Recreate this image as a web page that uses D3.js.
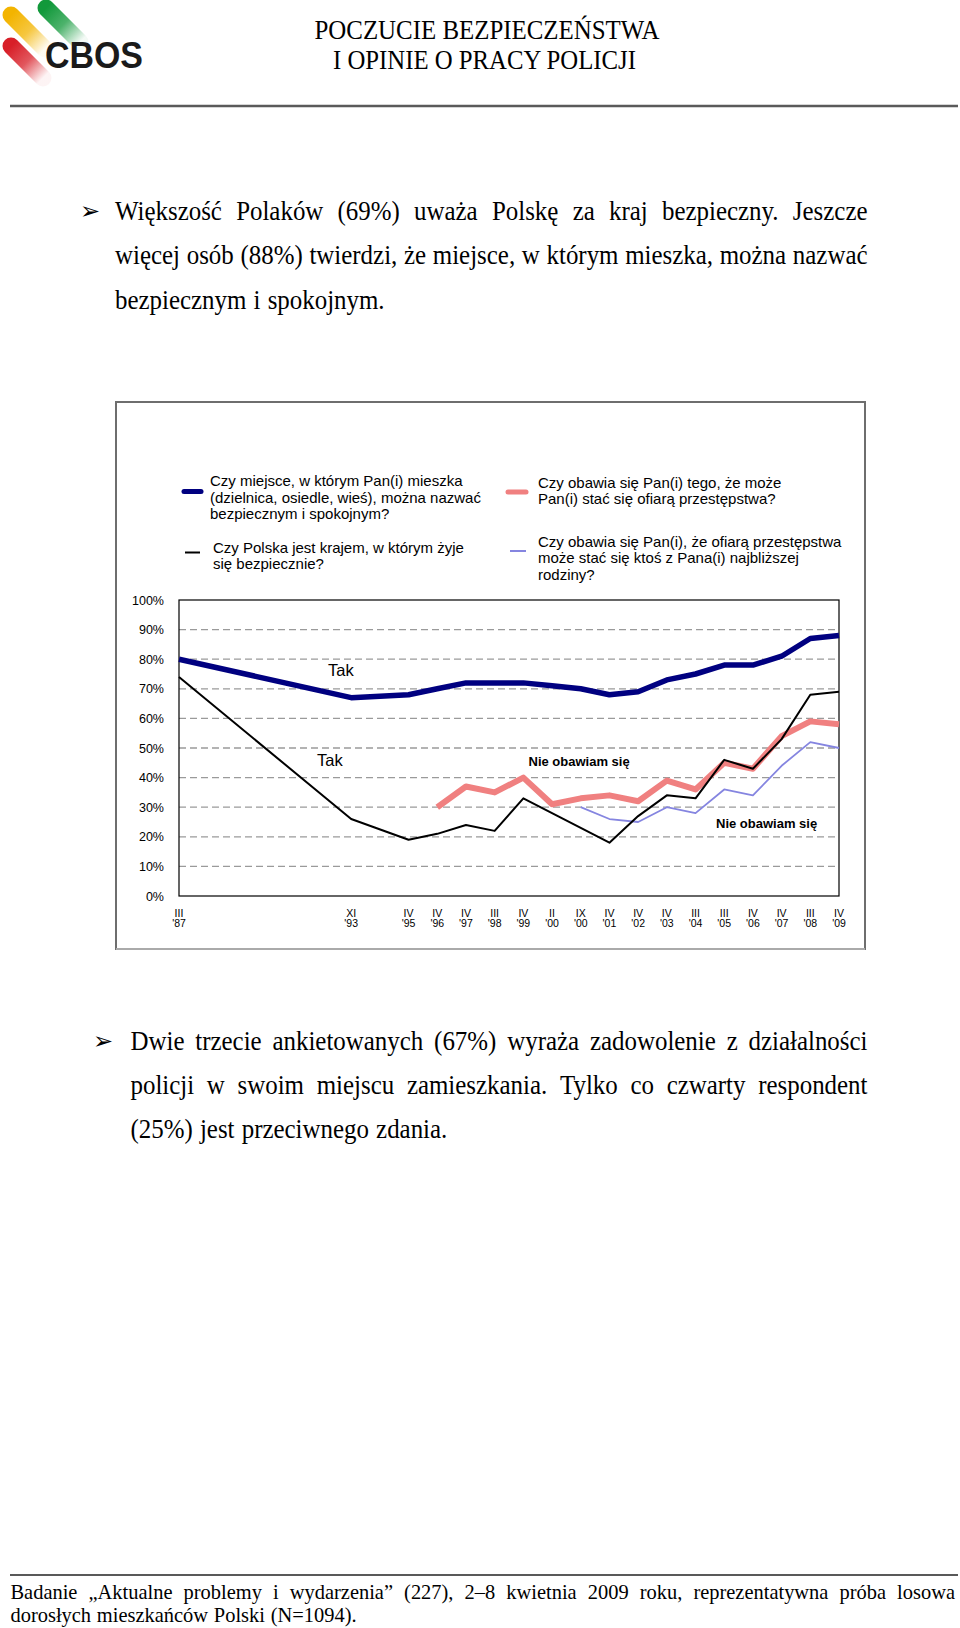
<!DOCTYPE html>
<html><head><meta charset="utf-8">
<script src="https://cdn.jsdelivr.net/npm/d3@7"></script>
<style>body{margin:0;background:#fff}svg{display:block}</style>
</head><body>
<svg id="page" width="960" height="1628"></svg>
<script>
// ---------------- DATA ----------------
const periods = ["III","","","","","","XI","","IV","IV","IV","III","IV","II","IX","IV","IV","IV","III","III","IV","IV","III","IV"];
const years   = ["'87","","","","","","'93","","'95","'96","'97","'98","'99","'00","'00","'01","'02","'03","'04","'05","'06","'07","'08","'09"];
const safePlace       = [80,null,null,null,null,null,67,null,68,70,72,72,72,71,70,68,69,73,75,78,78,81,87,88];
const safeCountry     = [74,null,null,null,null,null,26,null,19,21,24,22,33,28,23,18,27,34,33,46,43,53,68,69];
const notAfraidSelf   = [null,null,null,null,null,null,null,null,null,30,37,35,40,31,33,34,32,39,36,45,43,54,59,58];
const notAfraidFamily = [null,null,null,null,null,null,null,null,null,null,null,null,null,null,30,26,25,30,28,36,34,44,52,50];
const yTicks = [0,10,20,30,40,50,60,70,80,90,100];
const legendPlace   = ["Czy miejsce, w którym Pan(i) mieszka","(dzielnica, osiedle, wieś), można nazwać","bezpiecznym i spokojnym?"];
const legendCountry = ["Czy Polska jest krajem, w którym żyje","się bezpiecznie?"];
const legendSelf    = ["Czy obawia się Pan(i) tego, że może","Pan(i) stać się ofiarą przestępstwa?"];
const legendFamily  = ["Czy obawia się Pan(i), że ofiarą przestępstwa","może stać się ktoś z Pana(i) najbliższej","rodziny?"];

// ---------------- PAGE ----------------
const svg = d3.select("#page");
const SERIF = "'Liberation Serif','Times New Roman',serif";
const SANS = "'Liberation Sans',Arial,sans-serif";
const defs = svg.append("defs");

// logo
const logo = svg.append("g");
[["#f3b400",11,15,45,49],["#12993b",46,8,80,42],["#d81f28",11,46,43,78]].forEach(([c,x1,y1,x2,y2],k)=>{
  const id = "lg"+k;
  const g = defs.append("linearGradient").attr("id",id).attr("gradientUnits","userSpaceOnUse")
    .attr("x1",x1).attr("y1",y1).attr("x2",x2).attr("y2",y2);
  g.append("stop").attr("offset","0").attr("stop-color",c);
  g.append("stop").attr("offset","0.5").attr("stop-color",c).attr("stop-opacity",0.75);
  g.append("stop").attr("offset","1").attr("stop-color",c).attr("stop-opacity",0.05);
  logo.append("line").attr("x1",x1).attr("y1",y1).attr("x2",x2).attr("y2",y2)
    .attr("stroke",`url(#${id})`).attr("stroke-width",17).attr("stroke-linecap","round");
});
logo.append("text").attr("x",45).attr("y",68).attr("font-family",SANS).attr("font-weight","bold")
  .attr("font-size",36).attr("fill","#1a1a1a").attr("textLength",98).attr("lengthAdjust","spacingAndGlyphs").text("CBOS");

// header
svg.append("text").attr("x",314.5).attr("y",39).attr("font-family",SERIF).attr("font-size",27)
  .attr("textLength",345).attr("lengthAdjust","spacingAndGlyphs").text("POCZUCIE BEZPIECZEŃSTWA");
svg.append("text").attr("x",333).attr("y",68.5).attr("font-family",SERIF).attr("font-size",27)
  .attr("textLength",303).attr("lengthAdjust","spacingAndGlyphs").text("I OPINIE O PRACY POLICJI");
svg.append("line").attr("x1",10).attr("x2",958).attr("y1",106).attr("y2",106).attr("stroke","#5a5a5a").attr("stroke-width",2.5);

// word-by-word text lines (justified by distributing gaps)
function textLine(str, x0, x1, yb, size, sx, justify){
  const g = svg.append("g");
  const words = str.split(" ");
  const nodes = words.map(w => g.append("text").attr("y", yb).attr("font-family", SERIF).attr("font-size", size).attr("fill","#000").text(w));
  const ws = nodes.map(n => n.node().getComputedTextLength()*sx);
  const total = d3.sum(ws);
  const gap = justify ? (x1-x0-total)/(words.length-1) : size*0.27;
  let xp = x0;
  nodes.forEach((n,k)=>{ n.attr("x", xp).attr("textLength", ws[k]).attr("lengthAdjust","spacingAndGlyphs"); xp += ws[k]+gap; });
}
function bullet(x, yb){
  svg.append("text").attr("x",x).attr("y",yb).attr("font-family","'DejaVu Sans',sans-serif").attr("font-size",24).text("➢");
}
bullet(80, 219);
textLine("Większość Polaków (69%) uważa Polskę za kraj bezpieczny. Jeszcze", 115, 867.5, 219.5, 26.5, 0.94, true);
textLine("więcej osób (88%) twierdzi, że miejsce, w którym mieszka, można nazwać", 115, 867.5, 263.5, 26.5, 0.94, true);
textLine("bezpiecznym i spokojnym.", 115, 867.5, 308.5, 26.5, 0.94, false);

bullet(93, 1049);
textLine("Dwie trzecie ankietowanych (67%) wyraża zadowolenie z działalności", 130.5, 867.5, 1049.5, 26.5, 0.94, true);
textLine("policji w swoim miejscu zamieszkania. Tylko co czwarty respondent", 130.5, 867.5, 1093.5, 26.5, 0.94, true);
textLine("(25%) jest przeciwnego zdania.", 130.5, 867.5, 1137.5, 26.5, 0.94, false);

// footer
svg.append("line").attr("x1",10).attr("x2",958).attr("y1",1575).attr("y2",1575).attr("stroke","#222").attr("stroke-width",1.5);
textLine("Badanie „Aktualne problemy i wydarzenia” (227), 2–8 kwietnia 2009 roku, reprezentatywna próba losowa", 10.5, 955, 1598.5, 21.5, 0.95, true);
textLine("dorosłych mieszkańców Polski (N=1094).", 10.5, 955, 1621.5, 21.5, 0.95, false);

// ---------------- CHART ----------------
const box = svg.append("g");
box.append("rect").attr("x",116).attr("y",402).attr("width",749).attr("height",547)
  .attr("fill","#fff").attr("stroke","#6e6e6e").attr("stroke-width",2);
box.append("line").attr("x1",116).attr("x2",865).attr("y1",949).attr("y2",949).attr("stroke","#aaa").attr("stroke-width",2);

const x = d3.scaleLinear().domain([0, periods.length-1]).range([179, 839]);
const y = d3.scaleLinear().domain([0, 100]).range([896, 600]);

const plot = svg.append("g");
plot.selectAll(".grid").data(yTicks.filter(t => t>0 && t<100)).join("line")
  .attr("x1", x(0)).attr("x2", x(periods.length-1)).attr("y1", d=>y(d)).attr("y2", d=>y(d))
  .attr("stroke","#9a9a9a").attr("stroke-width",1.3).attr("stroke-dasharray","7,4");
plot.append("rect").attr("x", x(0)).attr("y", y(100)).attr("width", x(periods.length-1)-x(0)).attr("height", y(0)-y(100))
  .attr("fill","none").attr("stroke","#000").attr("stroke-width",1.2);

const yAxis = d3.axisLeft(y).tickValues(yTicks).tickFormat(d => d + "%").tickSize(0).tickPadding(15);
const yg = plot.append("g").attr("transform", `translate(${x(0)},0)`).call(yAxis);
yg.select(".domain").remove();
yg.selectAll("text").attr("font-family", SANS).attr("font-size", 12.5).attr("fill","#000");

const xg = plot.append("g");
periods.forEach((p,i) => {
  if (!p) return;
  const t = xg.append("text").attr("text-anchor","middle").attr("font-family",SANS).attr("font-size",10.5).attr("fill","#000");
  t.append("tspan").attr("x", x(i)).attr("y", 916.5).text(p);
  t.append("tspan").attr("x", x(i)).attr("y", 927).text(years[i]);
});

const series = [
  {vals: notAfraidSelf,   color:"#f08080", w:6,   legend: legendSelf,    lx:508, lx2:526, ly:492, tx:538, ty:[487.5,504]},
  {vals: notAfraidFamily, color:"#8585e0", w:1.8, legend: legendFamily,  lx:510, lx2:526, ly:551, tx:538, ty:[546.5,563,579.5]},
  {vals: safeCountry,     color:"#000000", w:2,   legend: legendCountry, lx:185, lx2:200, ly:552.5, tx:213, ty:[552.5,569]},
  {vals: safePlace,       color:"#000080", w:5.5, legend: legendPlace,   lx:184, lx2:201, ly:491.5, tx:210, ty:[485.5,502.5,519]}
];
const line = d3.line().x(d => x(d.i)).y(d => y(d.v));
series.forEach(s => {
  const pts = s.vals.map((v,i)=>({i,v})).filter(d => d.v != null);
  plot.append("path").datum(pts).attr("d", line).attr("fill","none")
    .attr("stroke", s.color).attr("stroke-width", s.w).attr("stroke-linejoin","round").attr("stroke-linecap","butt");
  svg.append("line").attr("x1", s.lx).attr("x2", s.lx2).attr("y1", s.ly).attr("y2", s.ly)
    .attr("stroke", s.color).attr("stroke-width", s.w >= 5 ? 5 : 2).attr("stroke-linecap", s.w >= 5 ? "round" : "butt");
  s.legend.forEach((l,k) => svg.append("text").attr("x", s.tx).attr("y", s.ty[k])
    .attr("font-family", SANS).attr("font-size", 15).attr("fill","#000").text(l));
});

function note(txt, xx, yb, size, bold){
  plot.append("text").attr("x", xx).attr("y", yb).attr("font-family", SANS).attr("font-size", size)
    .attr("font-weight", bold ? "bold" : "normal").attr("fill","#000").text(txt);
}
note("Tak", 328, 676, 16.5, false);
note("Tak", 317, 766, 16.5, false);
note("Nie obawiam się", 528.5, 766, 13, true);
note("Nie obawiam się", 716, 828, 13, true);
</script>
</body></html>
